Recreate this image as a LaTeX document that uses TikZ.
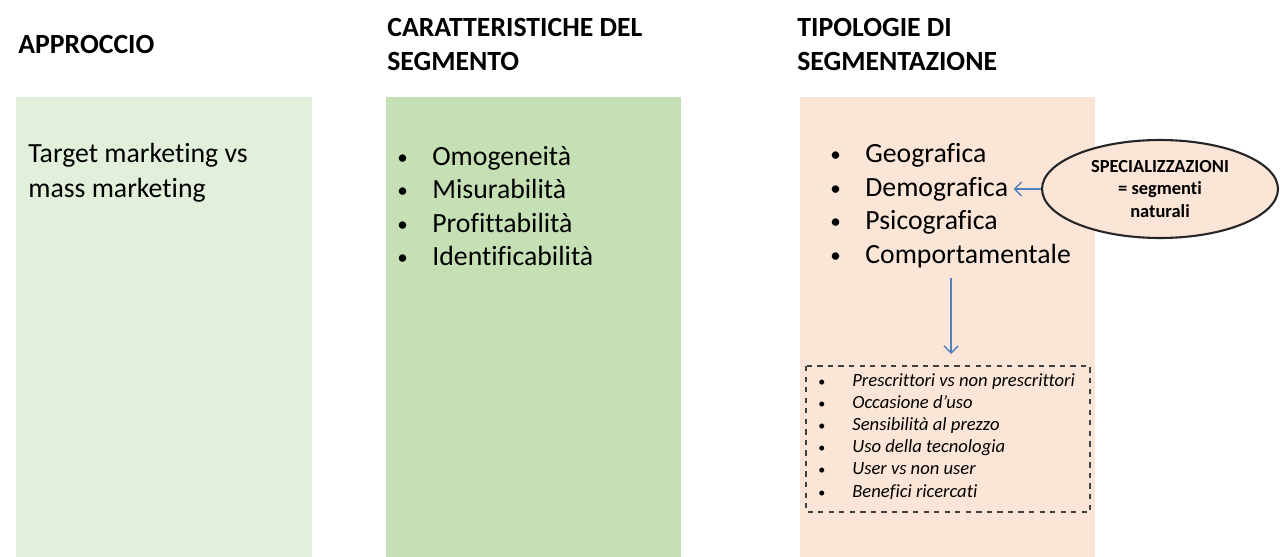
\documentclass[tikz,border=0pt]{standalone}
\usepackage{fontspec}
\setmainfont{Carlito}[Ligatures=NoCommon]
\usetikzlibrary{arrows.meta,positioning,shapes.geometric}

\definecolor{paleGreen}{HTML}{E2EFDA}
\definecolor{midGreen}{HTML}{C5E0B4}
\definecolor{peach}{HTML}{FBE5D6}
\definecolor{linkBlue}{HTML}{4F81BD}
\tikzset{
  head/.style={anchor=base west, inner sep=0pt, font=\fontsize{15.8}{19}\selectfont\bfseries},
  body/.style={anchor=base west, inner sep=0pt, font=\fontsize{15.8}{19}\selectfont},
  dot/.style={anchor=base west, inner sep=0pt, font=\fontsize{12}{14}\selectfont},
  small/.style={anchor=base west, inner sep=0pt, font=\fontsize{10.6}{13}\selectfont\itshape},
  smalldot/.style={anchor=base west, inner sep=0pt, font=\fontsize{8}{10}\selectfont},
  link/.style={draw=linkBlue, line width=0.8pt, -{Straight Barb[length=4pt,width=8pt]}}
}

\begin{document}
\begin{tikzpicture}[x=0.02cm, y=-0.02cm]
  \useasboundingbox (0,0) rectangle (1280,557);
  % colonne
  \fill[paleGreen](16,97) rectangle (312,557);
  \fill[midGreen](386,97) rectangle (681,557);
  \fill[peach](800,97) rectangle (1095,557);
  % titoli
  \node[head](hA) at (18,54){APPROCCIO};
  \node[head](hB1) at (387,37){CARATTERISTICHE DEL};
  \node[head](hB2) at (387,71){SEGMENTO};
  \node[head](hC1) at (797,37){TIPOLOGIE DI};
  \node[head](hC2) at (797,71){SEGMENTAZIONE};
  % approccio
  \node[body](tA1) at (28,163){Target marketing vs};
  \node[body](tA2) at (28,197){mass marketing};
  % caratteristiche
  \foreach \t [count=\i] in {Omogeneità,Misurabilità,Profittabilità,Identificabilità}{
    \node[dot](bB\i) at (397,131+\i*33.4){\textbullet};
    \node[body](tB\i) at (432,132+\i*33.4){\t};
  }
  % tipologie
  \foreach \t [count=\i] in {Geografica,Demografica,Psicografica,Comportamentale}{
    \node[dot](bC\i) at (830,128.5+\i*33.4){\textbullet};
    \node[body](tC\i) at (865,129.5+\i*33.4){\t};
  }
  % specializzazioni
  \node[draw=black!85, line width=1.2pt, fill=peach, ellipse, inner sep=0pt,
    minimum width=4.72cm, minimum height=1.96cm, align=center,
    font=\fontsize{10.5}{12.6}\selectfont\bfseries](spec) at (1160,189)
    {SPECIALIZZAZIONI\\= segmenti\\naturali};
  \draw[link](spec.west)--([xshift=3pt]tC2.east|-spec.west);
  % dettaglio comportamentale
  \draw[dashed, draw=black!75, line width=0.6pt](806,366) rectangle (1090,512);
  \coordinate(dTop) at (951,278);
  \coordinate(dBot) at (951,354);
  \draw[link](dTop)--(dBot);
  \foreach \t [count=\i] in {Prescrittori vs non prescrittori,Occasione d’uso,Sensibilità al prezzo,
      Uso della tecnologia,User vs non user,Benefici ricercati}{
    \node[smalldot](bD\i) at (818,363.8+\i*22.2){\textbullet};
    \node[small](tD\i) at (852,363.8+\i*22.2){\t};
  }
\end{tikzpicture}
\end{document}
